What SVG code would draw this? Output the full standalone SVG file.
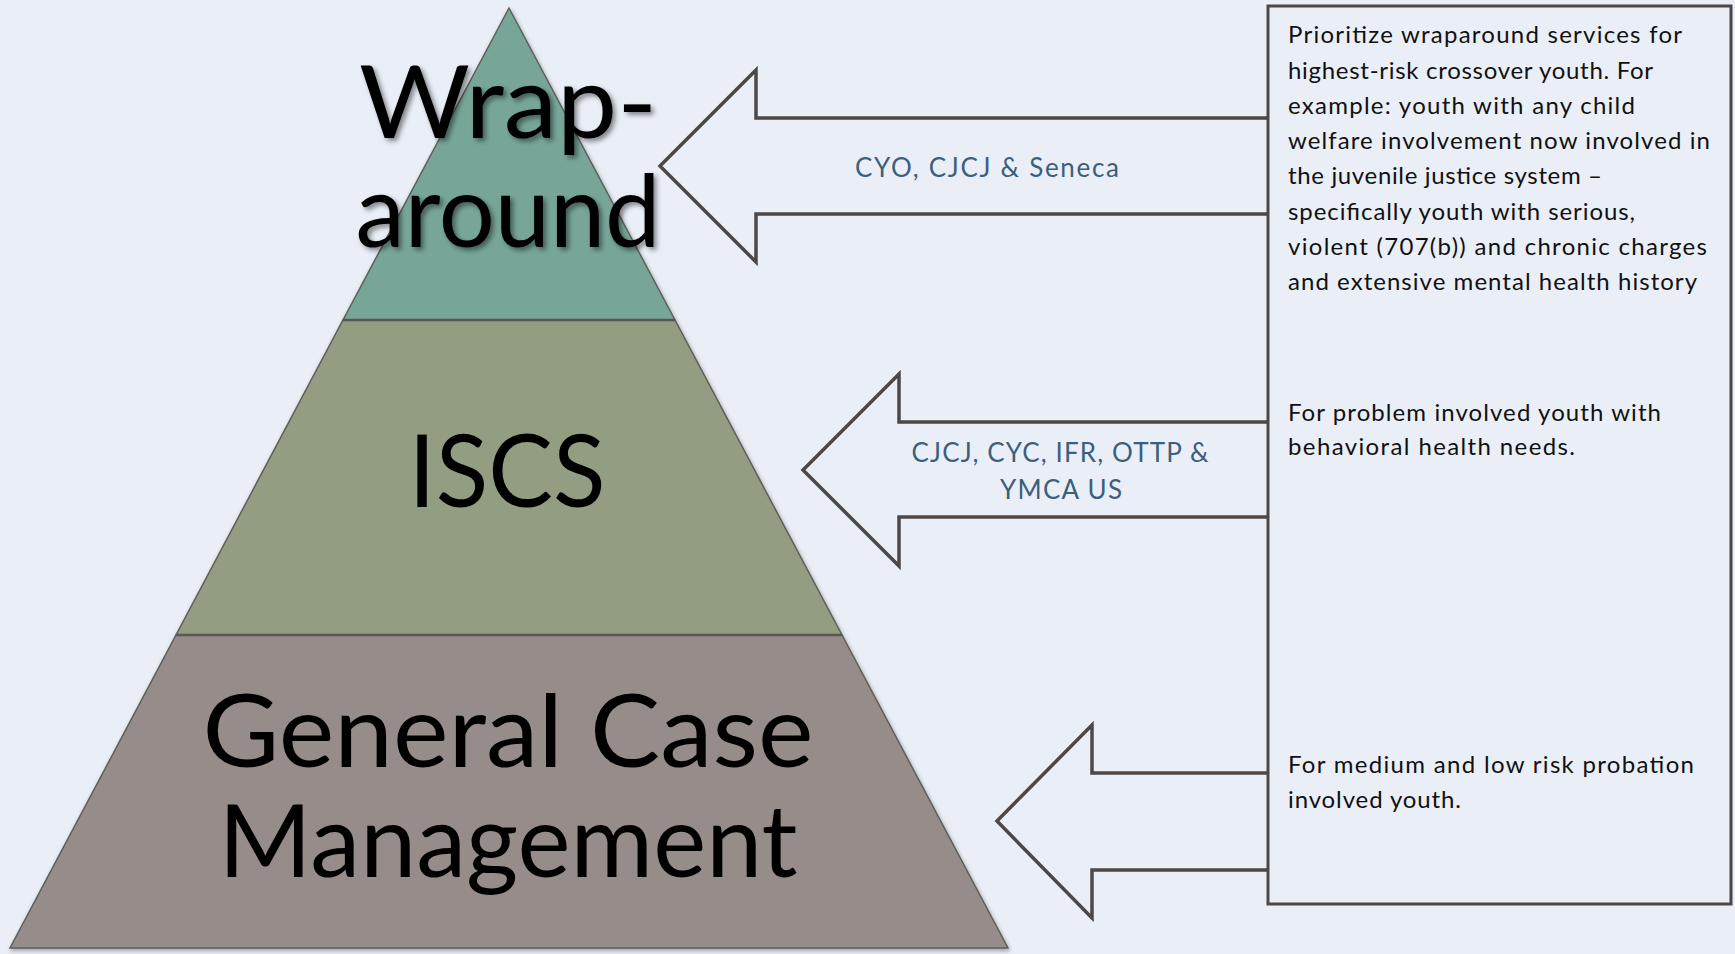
<svg xmlns="http://www.w3.org/2000/svg" width="1735" height="954" viewBox="0 0 1735 954">
<defs>
<style>
.bg{fill:#EAEFF7}
.band{stroke:#5E5F5A;stroke-width:1.5}
.big{font-family:Lato,"Liberation Sans",sans-serif;font-size:100px;fill:#000;text-anchor:middle}
.lbl{font-family:Lato,"Liberation Sans",sans-serif;font-size:26px;fill:#3B5F7E;text-anchor:middle}
.body{font-family:Lato,"Liberation Sans",sans-serif;font-size:24px;fill:#111}
.arrow{fill:none;stroke:#4D4747;stroke-width:3.5;stroke-linejoin:miter}
</style>
<filter id="tshadow" x="-10%" y="-10%" width="130%" height="130%">
<feDropShadow dx="3" dy="3" stdDeviation="2.5" flood-color="#000" flood-opacity="0.45"/>
</filter>
<filter id="pshadow" x="-5%" y="-5%" width="110%" height="110%">
<feDropShadow dx="1" dy="2" stdDeviation="2" flood-color="#000" flood-opacity="0.35"/>
</filter>
</defs>
<rect class="bg" x="0" y="0" width="1735" height="954"/>

<g id="pyramid" filter="url(#pshadow)">
<g id="node-gcm">
<polygon class="band" points="176,635 842,635 1008,948 10,948" fill="#968C8A"/>
</g>
<g id="node-iscs">
<polygon class="band" points="343,320 675,320 842,635 176,635" fill="#929D81"/>
</g>
<g id="node-wraparound">
<polygon class="band" points="509,8 675,320 343,320" fill="#77A699"/>
</g>
</g>
<line x1="343" y1="320" x2="675" y2="320" stroke="#555852" stroke-width="2.5"/>
<line x1="176" y1="635" x2="842" y2="635" stroke="#5A5654" stroke-width="2.5"/>

<g id="label-wraparound" filter="url(#tshadow)">
<text class="big" x="508" y="138" textLength="298" lengthAdjust="spacingAndGlyphs">Wrap-</text>
<text class="big" x="508" y="247" textLength="305" lengthAdjust="spacingAndGlyphs">around</text>
</g>
<g id="label-iscs">
<text class="big" x="507" y="507" textLength="197" lengthAdjust="spacingAndGlyphs">ISCS</text>
</g>
<g id="label-gcm">
<text class="big" x="508" y="767" font-size="98" textLength="611" lengthAdjust="spacingAndGlyphs">General Case</text>
<text class="big" x="508" y="877" font-size="98" textLength="579" lengthAdjust="spacingAndGlyphs">Management</text>
</g>

<g id="node-description">
<rect x="1268" y="6" width="463" height="898" fill="#EAEFF7" stroke="#4D4747" stroke-width="3"/>
<text class="body" x="1288" y="43" textLength="394">Prioritize wraparound services for</text>
<text class="body" x="1288" y="79" textLength="365">highest-risk crossover youth. For</text>
<text class="body" x="1288" y="114" textLength="347">example: youth with any child</text>
<text class="body" x="1288" y="149" textLength="422">welfare involvement now involved in</text>
<text class="body" x="1288" y="184" textLength="314">the juvenile justice system –</text>
<text class="body" x="1288" y="220" textLength="347">specifically youth with serious,</text>
<text class="body" x="1288" y="255" textLength="419">violent (707(b)) and chronic charges</text>
<text class="body" x="1288" y="290" textLength="409">and extensive mental health history</text>
<text class="body" x="1288" y="421" textLength="373">For problem involved youth with</text>
<text class="body" x="1288" y="455" textLength="287">behavioral health needs.</text>
<text class="body" x="1288" y="773" textLength="406">For medium and low risk probation</text>
<text class="body" x="1288" y="808" textLength="173">involved youth.</text>
</g>

<g id="connectors">
<path class="arrow" d="M1268,118 H756 V70 L660,166 L756,262 V214 H1268"/>
<path class="arrow" d="M1268,422 H899 V374 L803,470 L899,566 V517 H1268"/>
<path class="arrow" d="M1268,773 H1092 V725 L997,821 L1092,918 V870 H1268"/>
<text class="lbl" x="987" y="177" textLength="264">CYO, CJCJ &amp; Seneca</text>
<text class="lbl" x="1060" y="462" textLength="297">CJCJ, CYC, IFR, OTTP &amp;</text>
<text class="lbl" x="1061" y="499" textLength="122">YMCA US</text>
</g>
</svg>
